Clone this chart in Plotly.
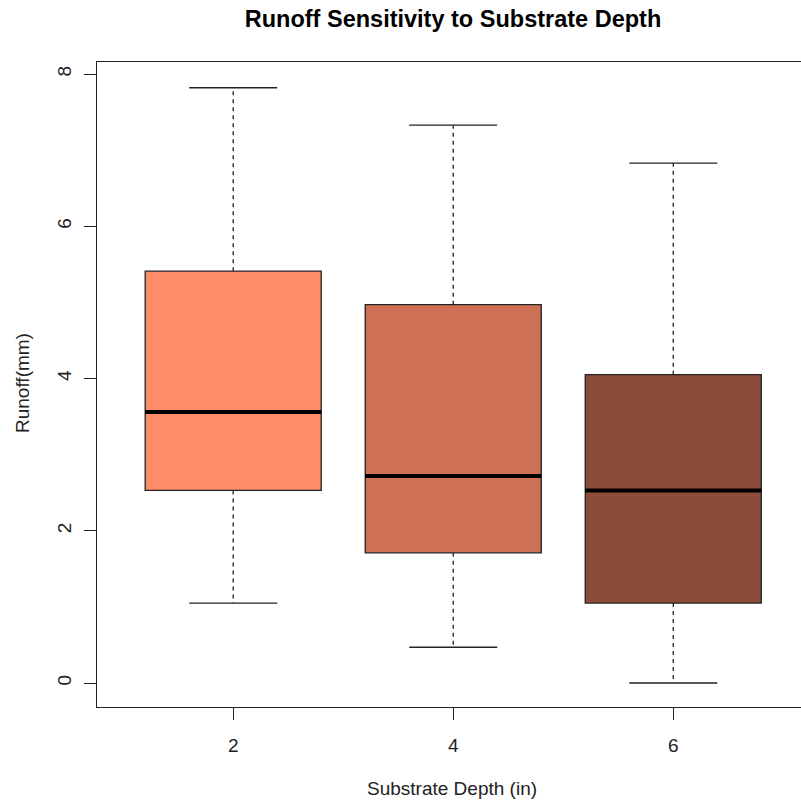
import plotly.graph_objects as go

# Data
depth = [2, 4, 6]
lower_whisker = [1.05, 0.47, 0.00]
q1 = [2.53, 1.71, 1.05]
median = [3.56, 2.72, 2.53]
q3 = [5.41, 4.97, 4.05]
upper_whisker = [7.82, 7.33, 6.83]
colors = ["#FF8C69", "#CD7054", "#8B4C39"]
y_ticks = [0, 2, 4, 6, 8]

BOX_W = 1.6
CAP_HALF = 0.4
MED_HALF = 0.8
EDGE = "#222222"
FONT = "Liberation Sans, Arial, sans-serif"

fig = go.Figure()

for i, d in enumerate(depth):
    # dashed whiskers
    fig.add_trace(go.Scatter(
        x=[d, d, None, d, d],
        y=[q3[i], upper_whisker[i], None, q1[i], lower_whisker[i]],
        mode="lines", line=dict(color=EDGE, width=1.3, dash="4px,4px"),
        hoverinfo="skip", showlegend=False))
    # staples
    fig.add_trace(go.Scatter(
        x=[d - CAP_HALF, d + CAP_HALF, None, d - CAP_HALF, d + CAP_HALF],
        y=[upper_whisker[i], upper_whisker[i], None, lower_whisker[i], lower_whisker[i]],
        mode="lines", line=dict(color=EDGE, width=1.3),
        hoverinfo="skip", showlegend=False))
    # box
    fig.add_trace(go.Box(
        x=[d], q1=[q1[i]], median=[median[i]], q3=[q3[i]],
        lowerfence=[q1[i]], upperfence=[q3[i]],
        width=BOX_W, whiskerwidth=0, boxpoints=False,
        fillcolor=colors[i], line=dict(color=EDGE, width=1.3),
        hoverinfo="skip", showlegend=False))
    # thick median
    fig.add_trace(go.Scatter(
        x=[d - MED_HALF, d + MED_HALF], y=[median[i], median[i]],
        mode="lines", line=dict(color="black", width=4),
        hoverinfo="skip", showlegend=False))

fig.update_layout(
    width=801, height=802,
    margin=dict(l=97, r=0, t=62, b=95, autoexpand=False),
    paper_bgcolor="white", plot_bgcolor="white",
    font=dict(family=FONT, size=19, color="#222222"),
    title=dict(text="<b>Runoff Sensitivity to Substrate Depth</b>",
               font=dict(family=FONT, size=23.5, color="black"),
               xref="paper", x=0.5057, xanchor="center",
               yref="container", y=1 - 19 / 802, yanchor="middle"),
    xaxis=dict(range=[0.762, 7.161], tickvals=depth, ticktext=[str(v) for v in depth],
               showgrid=False, zeroline=False, showline=True, linecolor=EDGE, linewidth=1.3,
               mirror=True, ticks="outside", ticklen=12, tickwidth=1.3, tickcolor=EDGE,
               ticklabelstandoff=9, automargin=False),
    yaxis=dict(range=[-0.315, 8.158], tickvals=y_ticks, ticktext=[str(v) for v in y_ticks],
               tickangle=-90,
               showgrid=False, zeroline=False, showline=True, linecolor=EDGE, linewidth=1.3,
               mirror=False, ticks="outside", ticklen=12, tickwidth=1.3, tickcolor=EDGE,
               ticklabelstandoff=5, automargin=False),
    annotations=[
        dict(text="Substrate Depth (in)", xref="paper", yref="paper",
             x=(452 - 97) / 704, y=-(788 - 707) / 645, xanchor="center", yanchor="middle",
             showarrow=False, font=dict(family=FONT, size=19, color="#222222")),
        dict(text="Runoff(mm)", xref="paper", yref="paper",
             x=-(97 - 23) / 704, y=(707 - 383) / 645, xanchor="center", yanchor="middle",
             textangle=-90, showarrow=False, font=dict(family=FONT, size=19, color="#222222")),
    ],
)

fig.write_html("out.html")
